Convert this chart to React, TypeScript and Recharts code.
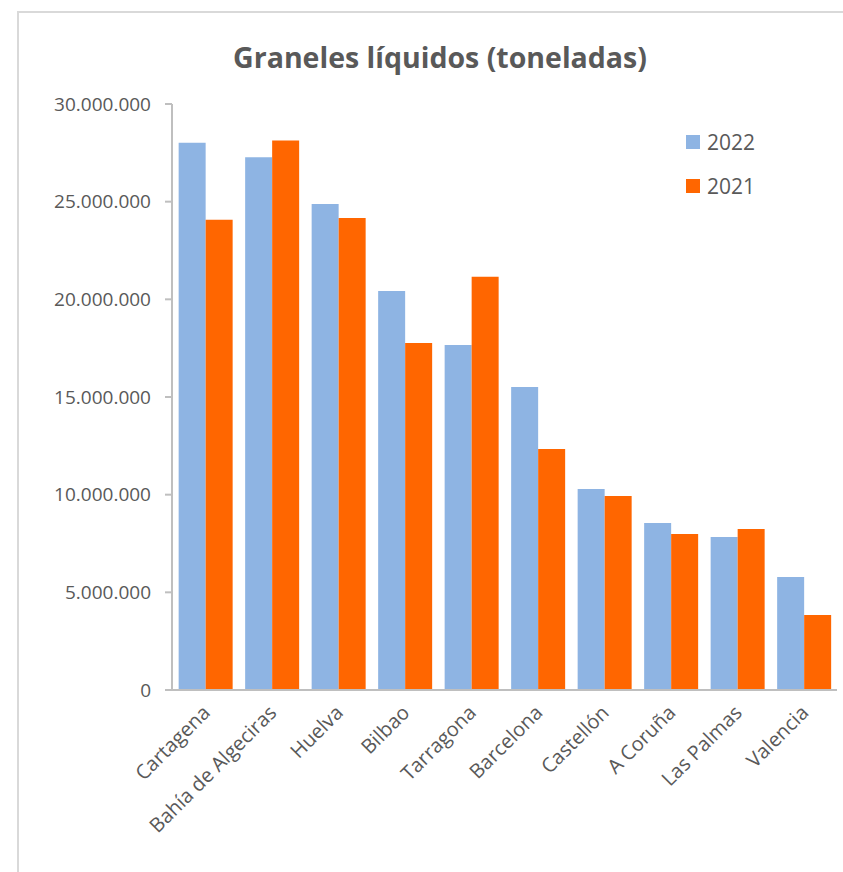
import { BarChart, Bar, XAxis, YAxis } from "recharts";

const ports = ["Cartagena", "Bahía de Algeciras", "Huelva", "Bilbao", "Tarragona", "Barcelona", "Castellón", "A Coruña", "Las Palmas", "Valencia"];
const v2022 = [28020000, 27280000, 24880000, 20430000, 17660000, 15510000, 10290000, 8550000, 7830000, 5790000];
const v2021 = [24070000, 28130000, 24170000, 17770000, 21150000, 12340000, 9930000, 7990000, 8240000, 3840000];
const yTicks = [0, 5000000, 10000000, 15000000, 20000000, 25000000, 30000000];

const data = ports.map((p, i) => ({ port: p, y2022: v2022[i], y2021: v2021[i] }));

const FONT = "'Open Sans', sans-serif";
const TEXT = "#595959";
const BLUE = "#8EB4E3";
const ORANGE = "#FF6600";
const AXIS = "#BFBFBF";

const fmt = (v: number) => v.toLocaleString("de-DE");

// rotated category labels, anchored at their end like Excel does
function PortTick(props: any) {
  const { x, y, payload } = props;
  const tx = x + 6;
  const ty = y + 16;
  return (
    <text x={tx} y={ty} textAnchor="end" fill={TEXT} fontSize={20} fontFamily={FONT}
      transform={`rotate(-45, ${tx}, ${ty})`}>
      {payload.value}
    </text>
  );
}

function LegendBox() {
  const items = [
    { label: "2022", color: BLUE },
    { label: "2021", color: ORANGE },
  ];
  return (
    <div style={{ position: "absolute", left: 686, top: 120, fontFamily: FONT }}>
      {items.map((it) => (
        <div key={it.label} style={{ display: "flex", alignItems: "center", height: 44 }}>
          <span style={{ width: 14, height: 14, background: it.color, display: "inline-block", marginRight: 7 }} />
          <span style={{ fontSize: 21, color: TEXT }}>{it.label}</span>
        </div>
      ))}
    </div>
  );
}

export default function App() {
  return (
    <div style={{ position: "absolute", left: 0, top: 0, width: 843, height: 872, background: "white", overflow: "hidden" }}>
      <div style={{ position: "absolute", left: 17, top: 11, width: 900, height: 900, borderLeft: "2px solid #D9D9D9", borderTop: "2px solid #D9D9D9" }} />
      <div style={{ position: "absolute", left: 0, top: 0 }}>
        <BarChart width={843} height={872} data={data} barCategoryGap="10%" barGap={0}
          margin={{ top: 104, right: 6, bottom: 0, left: 0 }}>
          <text x={440} y={68} textAnchor="middle" fontFamily={FONT} fontWeight={700} fontSize={28.5} fill={TEXT}>
            Graneles líquidos (toneladas)
          </text>
          <XAxis dataKey="port" interval={0} tick={<PortTick />} tickLine={false}
            axisLine={{ stroke: AXIS, strokeWidth: 2 }} height={182} />
          <YAxis width={172} domain={[0, 30000000]} ticks={yTicks} tickFormatter={fmt}
            axisLine={{ stroke: AXIS, strokeWidth: 2 }} tickLine={{ stroke: AXIS, strokeWidth: 2 }} tickSize={7} tickMargin={14}
            tick={{ fill: TEXT, fontSize: 19, fontFamily: FONT }} />
          <Bar dataKey="y2022" name="2022" fill={BLUE} isAnimationActive={false} />
          <Bar dataKey="y2021" name="2021" fill={ORANGE} isAnimationActive={false} />
        </BarChart>
      </div>
      <LegendBox />
    </div>
  );
}
